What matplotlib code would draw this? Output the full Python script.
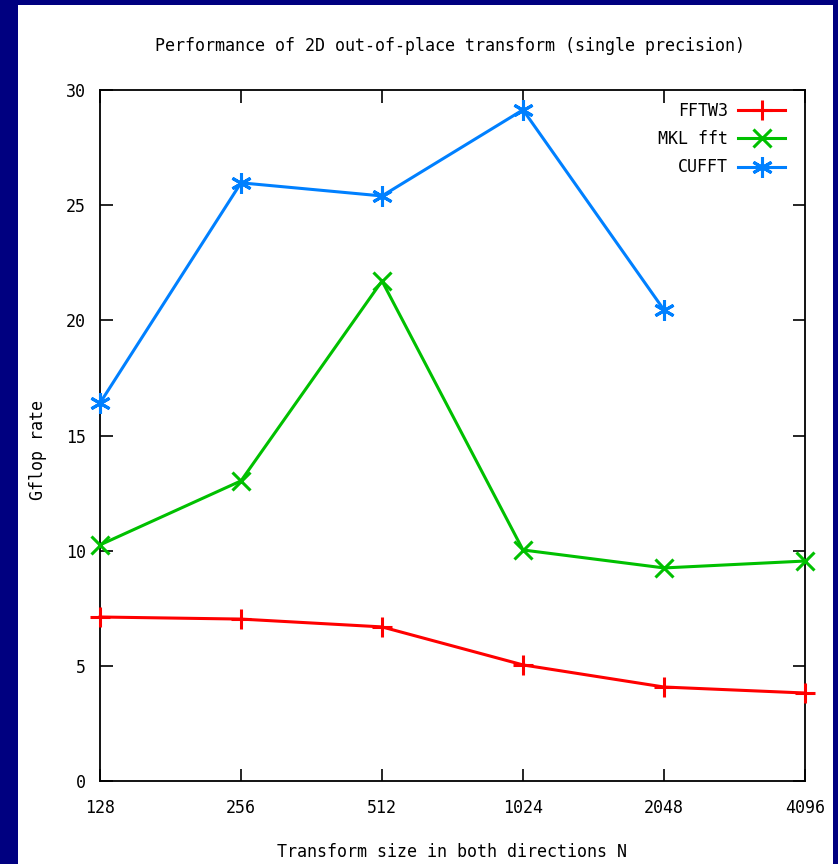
import matplotlib
matplotlib.use("Agg")
import matplotlib.pyplot as plt

# data
sizes = [128, 256, 512, 1024, 2048, 4096]
fftw3 = [7.12, 7.03, 6.69, 5.04, 4.08, 3.82]
mkl = [10.25, 13.03, 21.71, 10.03, 9.25, 9.55]
cufft_sizes = [128, 256, 512, 1024, 2048]
cufft = [16.41, 25.97, 25.4, 29.14, 20.45]
y_ticks = [0, 5, 10, 15, 20, 25, 30]

plt.rcParams['font.family'] = ['DejaVu Sans Mono', 'DejaVu Sans']

fig = plt.figure(figsize=(8.38, 8.64), dpi=100)
fig.patch.set_facecolor('#000080')
# white panel inside the navy frame
panel = fig.add_axes([18/838, 0, (833-18)/838, (864-5)/864])
panel.set_facecolor('white')
panel.set_xticks([])
panel.set_yticks([])
for s in panel.spines.values():
    s.set_visible(False)

ax = fig.add_axes([100/838, 83/864, 705/838, 691/864])
ax.set_facecolor('white')

ax.plot(sizes, fftw3, color='#ff0000', lw=2.2, marker='+', ms=15, mew=2.2,
        label='FFTW3', clip_on=False, zorder=3)
ax.plot(sizes, mkl, color='#00c000', lw=2.2, marker='x', ms=13, mew=2.2,
        label='MKL fft', clip_on=False, zorder=3)
ax.plot(cufft_sizes, cufft, color='#0080ff', lw=2.2, marker=(6, 2, 0), ms=15, mew=2.2,
        label='CUFFT', clip_on=False, zorder=3)

ax.set_xscale('log', base=2)
ax.set_xlim(128, 4096)
ax.set_ylim(0, 30)
ax.set_xticks(sizes)
ax.set_xticklabels([str(s) for s in sizes])
ax.minorticks_off()
ax.set_yticks(y_ticks)
ax.tick_params(direction='in', length=9, width=1.2, top=True, right=True,
               labelsize=12)
ax.tick_params(axis='x', pad=13)
ax.tick_params(axis='y', pad=10)
for s in ax.spines.values():
    s.set_linewidth(1.3)

fig.text(450/838, 1 - 46/864, 'Performance of 2D out-of-place transform (single precision)',
         fontsize=12, ha='center', va='center')
fig.text(452/838, 1 - 852/864, 'Transform size in both directions N',
         fontsize=12, ha='center', va='center')
fig.text(38/838, 1 - 450/864, 'Gflop rate', fontsize=12, rotation=90,
         ha='center', va='center')

leg = ax.legend(loc='upper right', bbox_to_anchor=(0.9716, 0.983), markerfirst=False,
                frameon=False, fontsize=12, handlelength=2.8, handletextpad=0.6,
                borderaxespad=0, borderpad=0, labelspacing=0.62)

fig.savefig('out.png', dpi=100, facecolor=fig.get_facecolor())
